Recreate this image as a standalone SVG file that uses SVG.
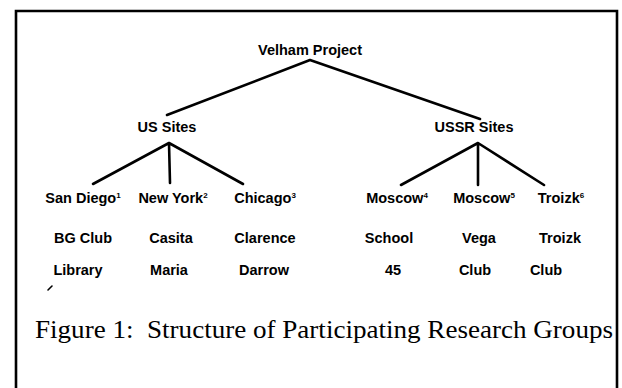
<svg xmlns="http://www.w3.org/2000/svg" width="622" height="388" viewBox="0 0 622 388">
<style>
.lbl{font-family:"Liberation Sans",Arial,sans-serif;font-weight:bold;font-size:14.5px;fill:#000;text-anchor:middle}
.sup{font-size:8px}
.edge{stroke:#000;stroke-width:2.6;stroke-linecap:round;fill:none}
.cap{font-family:"Liberation Serif","Times New Roman",serif;font-size:25px;fill:#000}
</style>
<rect width="622" height="388" fill="#fff"/>
<path d="M16,392 V11 H617 V392" fill="none" stroke="#000" stroke-width="2.6"/>
<g id="connectors">
<path class="edge" d="M310,60 L167,115 M310,60 L480,119"/>
<path class="edge" d="M169,143 L93,184 M169,143 L170,183 M169,143 L243,184"/>
<path class="edge" d="M478,143 L401,185 M478,143 L478,185 M478,143 L544,185"/>
</g>
<g id="velham"><text class="lbl" x="310" y="55">Velham Project</text></g>
<g id="us"><text class="lbl" x="167" y="132">US Sites</text></g>
<g id="ussr"><text class="lbl" x="474" y="132">USSR Sites</text></g>
<g id="sandiego"><text class="lbl" x="83" y="203">San Diego<tspan class="sup" dy="-5">1</tspan></text>
<text class="lbl" x="83" y="243">BG Club</text><text class="lbl" x="78" y="275">Library</text></g>
<g id="newyork"><text class="lbl" x="173" y="203">New York<tspan class="sup" dy="-5">2</tspan></text>
<text class="lbl" x="171" y="243">Casita</text><text class="lbl" x="169" y="275">Maria</text></g>
<g id="chicago"><text class="lbl" x="265" y="203">Chicago<tspan class="sup" dy="-5">3</tspan></text>
<text class="lbl" x="265" y="243">Clarence</text><text class="lbl" x="264" y="275">Darrow</text></g>
<g id="moscow1"><text class="lbl" x="397" y="203">Moscow<tspan class="sup" dy="-5">4</tspan></text>
<text class="lbl" x="389" y="243">School</text><text class="lbl" x="393" y="275">45</text></g>
<g id="moscow2"><text class="lbl" x="484" y="203">Moscow<tspan class="sup" dy="-5">5</tspan></text>
<text class="lbl" x="479" y="243">Vega</text><text class="lbl" x="475" y="275">Club</text></g>
<g id="troizk"><text class="lbl" x="561" y="203">Troizk<tspan class="sup" dy="-5">6</tspan></text>
<text class="lbl" x="560" y="243">Troizk</text><text class="lbl" x="546" y="275">Club</text></g>
<path d="M48,290 L52,286" stroke="#000" stroke-width="1.6" stroke-linecap="round"/>
<text class="cap" x="35" y="338" xml:space="preserve" textLength="578" lengthAdjust="spacingAndGlyphs">Figure 1:  Structure of Participating Research Groups</text>
</svg>
